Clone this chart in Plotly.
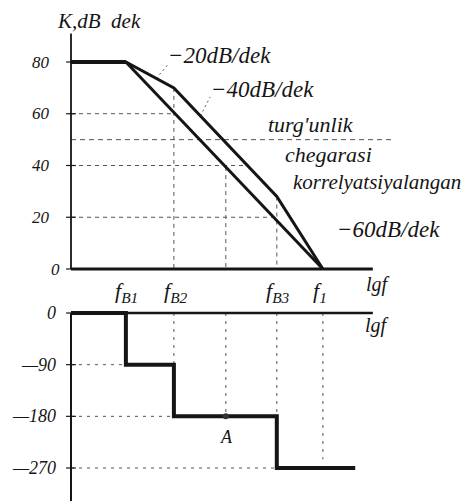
import numpy as np
import plotly.graph_objects as go

# ---------------- data (lg f units) ----------------
lg_B1 = 0.56
lg_B2 = 1.05
lg_B3 = 2.10
lg_1 = 2.57
lg_A = 1.58
lg_axis_end = 3.08
lg_step_end = 2.90
lg_boundary_end = 3.29

K_lg = [0, lg_B1, lg_B2, lg_B3, lg_1]
K_corrected = [80, 80, 70, 28, 0]          # -20, -40, -60 dB/dek
K_uncorrected_lg = [lg_B1, lg_1]
K_uncorrected = [80, 0]
K_boundary = 50                             # turg'unlik chegarasi
K_ticks = [0, 20, 40, 60, 80]

phi_lg = [0, lg_B1, lg_B1, lg_B2, lg_B2, lg_B3, lg_B3, lg_step_end]
phi_vals = [0, 0, -90, -90, -180, -180, -270, -270]
phi_ticks = [0, -90, -180, -270]
phi_A = -180

# ---------------- figure geometry ----------------
W, H = 469, 501
X0_PX, PX_PER_DEC = 71, 98.0
K0_PY, PX_PER_DB = 269, 2.5875
P0_PY, PX_PER_DEG = 313, 0.5741

x_range = [-X0_PX / PX_PER_DEC, (W - X0_PX) / PX_PER_DEC]
yK_range = [(K0_PY - H) / PX_PER_DB, K0_PY / PX_PER_DB]
yP_range = [-(H - P0_PY) / PX_PER_DEG, P0_PY / PX_PER_DEG]

INK = "#151515"
GUIDE = "#555555"
FONT = "Liberation Serif, Times New Roman, serif"

fig = go.Figure()


def seg_trace(xs, ys, yaxis="y", width=1.0, color=GUIDE, dash="4px,4px"):
    fig.add_trace(go.Scatter(x=xs, y=ys, mode="lines", yaxis=yaxis,
                             line=dict(color=color, width=width, dash=dash),
                             hoverinfo="skip", showlegend=False))


def segments(pairs):
    xs, ys = [], []
    for (xa, ya, xb, yb) in pairs:
        xs += [xa, xb, None]
        ys += [ya, yb, None]
    return xs, ys


K_up_at = lambda x: float(np.interp(x, K_lg, K_corrected))
K_lo_at = lambda x: float(np.interp(x, [0] + K_uncorrected_lg, [80] + K_uncorrected))

# ---- top guides ----
gx, gy = segments([
    (0, 60, lg_B2, 60),
    (0, 40, 1.81, 40),
    (0, 20, lg_B3, 20),
    (lg_B2, K_up_at(lg_B2), lg_B2, 0),
    (lg_A, K_lo_at(lg_A), lg_A, 0),
    (lg_B3, K_up_at(lg_B3), lg_B3, 0),
])
seg_trace(gx, gy, "y")
seg_trace([0, lg_boundary_end], [K_boundary, K_boundary], "y", dash="5px,4px")

# leaders
lx, ly = segments([
    (0.87, K_up_at(0.87), 1.0, 79.5),
    (1.32, K_up_at(1.32), 1.42, 66.5),
])
seg_trace(lx, ly, "y", dash="2px,3px")

# ---- bottom guides ----
bx, by = segments([
    (0, -90, lg_B1, -90),
    (0, -180, lg_B2, -180),
    (0, -270, lg_B3, -270),
    (lg_B2, 0, lg_B2, -90),
    (lg_A, 0, lg_A, phi_A),
    (lg_B3, 0, lg_B3, -180),
    (lg_1, 0, lg_1, -255),
])
seg_trace(bx, by, "y2", dash="3px,5px")

# ---- axes ----
seg_trace([0, 0], [0, 91], "y", width=1.8, color=INK, dash="solid")
seg_trace([0, lg_axis_end], [0, 0], "y", width=3, color=INK, dash="solid")
seg_trace([0, 0], [0, yP_range[0]], "y2", width=2, color=INK, dash="solid")
seg_trace([0, lg_axis_end], [0, 0], "y2", width=2.5, color=INK, dash="solid")

# tick marks
fig.add_trace(go.Scatter(x=[0] * len(K_ticks), y=K_ticks, mode="markers", yaxis="y",
                         marker=dict(symbol="line-ew", size=7, line=dict(color=INK, width=1.2)),
                         hoverinfo="skip", showlegend=False))
fig.add_trace(go.Scatter(x=[0] * len(phi_ticks), y=phi_ticks, mode="markers", yaxis="y2",
                         marker=dict(symbol="line-ew", size=7, line=dict(color=INK, width=1.2)),
                         hoverinfo="skip", showlegend=False))

# ---- characteristic lines ----
fig.add_trace(go.Scatter(x=K_lg, y=K_corrected, mode="lines", yaxis="y",
                         line=dict(color=INK, width=3), hoverinfo="skip", showlegend=False))
fig.add_trace(go.Scatter(x=[0, lg_B1], y=[80, 80], mode="lines", yaxis="y",
                         line=dict(color=INK, width=4), hoverinfo="skip", showlegend=False))
fig.add_trace(go.Scatter(x=K_uncorrected_lg, y=K_uncorrected, mode="lines", yaxis="y",
                         line=dict(color=INK, width=3), hoverinfo="skip", showlegend=False))
fig.add_trace(go.Scatter(x=phi_lg, y=phi_vals, mode="lines", yaxis="y2",
                         line=dict(color=INK, width=4), hoverinfo="skip", showlegend=False))
fig.add_trace(go.Scatter(x=[lg_A], y=[phi_A], mode="markers", yaxis="y2",
                         marker=dict(color="#333", size=6), hoverinfo="skip", showlegend=False))

# ---- text ----
ann = []


def txt(text, px, py, size=20, xanchor="center"):
    ann.append(dict(text="<i>" + text + "</i>", x=px / W, y=1 - py / H, xref="paper", yref="paper",
                    xanchor=xanchor, yanchor="middle", showarrow=False,
                    font=dict(family=FONT, size=size, color=INK)))


for v in K_ticks:
    ann.append(dict(text="<i>" + str(v) + "</i>", x=0, y=v, xref="x", yref="y", xanchor="right",
                    yanchor="middle", xshift=(-9 if v == 0 else -19), showarrow=False,
                    font=dict(family=FONT, size=17, color=INK)))
for v in phi_ticks:
    ann.append(dict(text="<i>" + str(v).replace("-", "—") + "</i>", x=0, y=v, xref="x", yref="y2",
                    xanchor="right", yanchor="middle", xshift=-13, showarrow=False,
                    font=dict(family=FONT, size=18, color=INK)))

txt("K,dB  dek", 99, 21, 21)
txt("−20dB/dek", 219, 56, 23)
txt("−40dB/dek", 262, 89, 23)
txt("turg'unlik", 311, 125, 22)
txt("chegarasi", 328, 155, 22)
txt("korrelyatsiyalangan", 377, 182, 21)
txt("−60dB/dek", 388, 230, 23)
txt("lgf", 378, 284, 20)
txt("lgf", 377, 325, 20)
txt("A", 226, 437, 18)
txt("f<sub>B1</sub>", 126, 292, 22)
txt("f<sub>B2</sub>", 176, 292, 22)
txt("f<sub>B3</sub>", 278, 292, 22)
txt("f<sub>1</sub>", 320, 292, 22)

fig.update_layout(
    width=W, height=H, margin=dict(l=0, r=0, t=0, b=0),
    paper_bgcolor="white", plot_bgcolor="white",
    xaxis=dict(range=x_range, visible=False, domain=[0, 1]),
    yaxis=dict(range=yK_range, visible=False, domain=[0, 1]),
    yaxis2=dict(range=yP_range, visible=False, overlaying="y", domain=[0, 1]),
    annotations=ann,
    showlegend=False,
)

fig.write_html("out.html", config={"displayModeBar": False},
               post_script="document.body.style.margin='0';")
